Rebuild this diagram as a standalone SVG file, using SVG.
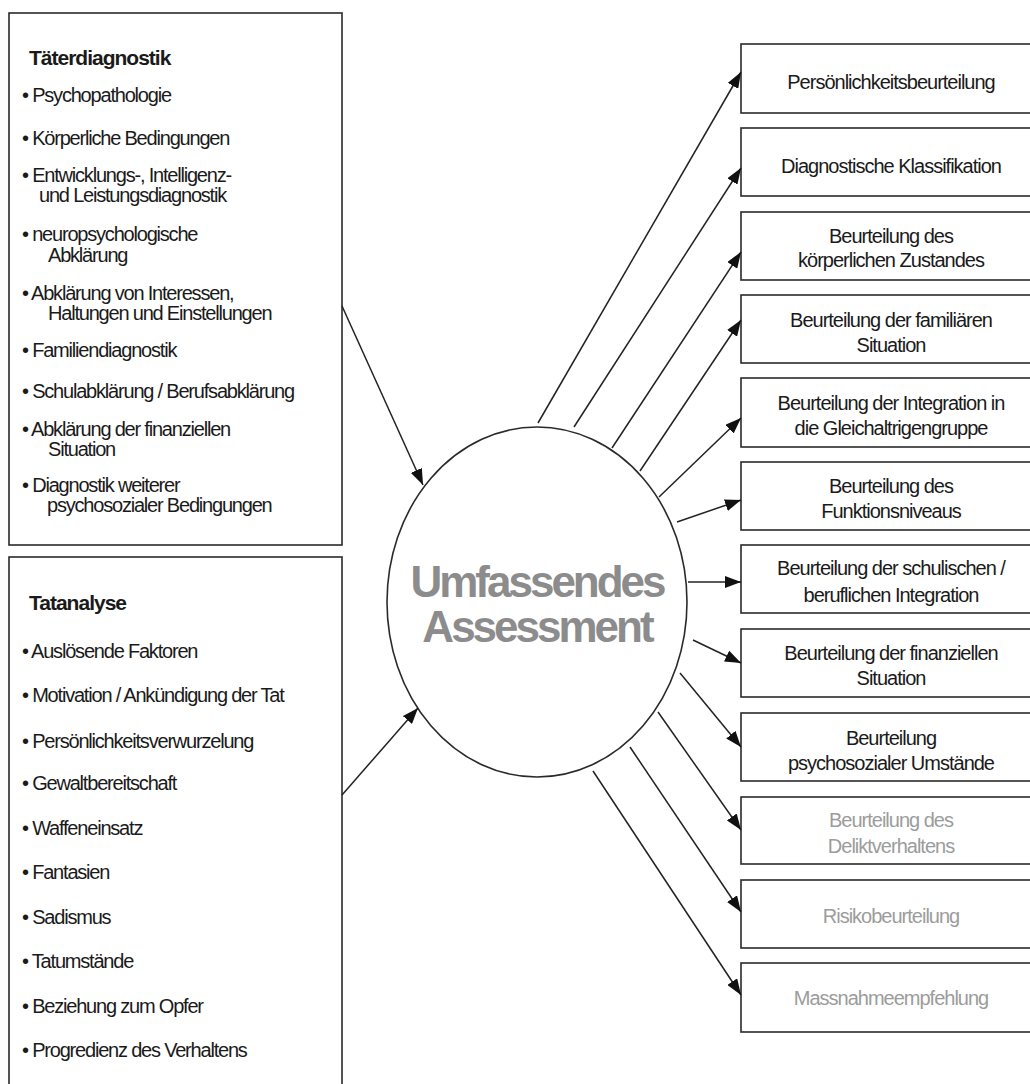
<svg xmlns="http://www.w3.org/2000/svg" width="1030" height="1084" viewBox="0 0 1030 1084">
<style>
.box{fill:#fff;stroke:#2a2a2a;stroke-width:1.6}
.t{font-family:"Liberation Sans",Arial,sans-serif;font-size:20px;fill:#1a1a1a;letter-spacing:-1.2px}
.h{font-weight:bold;font-size:21px;letter-spacing:-1px}
.r{font-family:"Liberation Sans",Arial,sans-serif;font-size:20px;fill:#1a1a1a;letter-spacing:-1px;text-anchor:middle}
.g{fill:#9c9c9c}
.big{font-family:"Liberation Sans",Arial,sans-serif;font-size:44px;font-weight:bold;fill:#8c8c8c;letter-spacing:-3px;text-anchor:middle}
.c{stroke:#222;stroke-width:1.5;fill:none;marker-end:url(#ah)}
</style>
<defs>
<marker id="ah" markerUnits="userSpaceOnUse" markerWidth="16" markerHeight="12" refX="16" refY="6" orient="auto" viewBox="0 0 16 12">
<path d="M0,0 L16,6 L0,12 z" fill="#111"/>
</marker>
</defs>
<rect width="1030" height="1084" fill="#fff"/>

<g id="taeterdiagnostik">
<rect class="box" x="9" y="13" width="333" height="532"/>
<text class="t h" x="29" y="65">Täterdiagnostik</text>
<text class="t" x="22" y="102">• Psychopathologie</text>
<text class="t" x="22" y="145">• Körperliche Bedingungen</text>
<text class="t" x="22" y="182">• Entwicklungs-, Intelligenz-</text>
<text class="t" x="39" y="202">und Leistungsdiagnostik</text>
<text class="t" x="22" y="241">• neuropsychologische</text>
<text class="t" x="48" y="262">Abklärung</text>
<text class="t" x="22" y="300">• Abklärung von Interessen,</text>
<text class="t" x="48" y="320">Haltungen und Einstellungen</text>
<text class="t" x="22" y="357">• Familiendiagnostik</text>
<text class="t" x="22" y="398">• Schulabklärung / Berufsabklärung</text>
<text class="t" x="22" y="436">• Abklärung der finanziellen</text>
<text class="t" x="48" y="456">Situation</text>
<text class="t" x="22" y="492">• Diagnostik weiterer</text>
<text class="t" x="47" y="512">psychosozialer Bedingungen</text>
</g>

<g id="tatanalyse">
<rect class="box" x="9" y="557" width="333" height="540"/>
<text class="t h" x="29" y="610">Tatanalyse</text>
<text class="t" x="22" y="658">• Auslösende Faktoren</text>
<text class="t" x="22" y="702">• Motivation / Ankündigung der Tat</text>
<text class="t" x="22" y="748">• Persönlichkeitsverwurzelung</text>
<text class="t" x="22" y="790">• Gewaltbereitschaft</text>
<text class="t" x="22" y="835">• Waffeneinsatz</text>
<text class="t" x="22" y="879">• Fantasien</text>
<text class="t" x="22" y="924">• Sadismus</text>
<text class="t" x="22" y="968">• Tatumstände</text>
<text class="t" x="22" y="1013">• Beziehung zum Opfer</text>
<text class="t" x="22" y="1057">• Progredienz des Verhaltens</text>
</g>

<g id="assessment">
<ellipse cx="537" cy="602" rx="150" ry="175" fill="#fff" stroke="#2a2a2a" stroke-width="1.6"/>
<text class="big" x="537" y="597">Umfassendes</text>
<text class="big" x="537" y="642">Assessment</text>
</g>

<g id="out1"><rect class="box" x="741" y="44" width="310" height="69"/><text class="r" x="891" y="89">Persönlichkeitsbeurteilung</text></g>
<g id="out2"><rect class="box" x="741" y="128" width="310" height="68"/><text class="r" x="891" y="173">Diagnostische Klassifikation</text></g>
<g id="out3"><rect class="box" x="741" y="212" width="310" height="68"/><text class="r" x="891" y="243">Beurteilung des</text><text class="r" x="891" y="267">körperlichen Zustandes</text></g>
<g id="out4"><rect class="box" x="741" y="295" width="310" height="68"/><text class="r" x="891" y="327">Beurteilung der familiären</text><text class="r" x="891" y="352">Situation</text></g>
<g id="out5"><rect class="box" x="741" y="378" width="310" height="69"/><text class="r" x="891" y="410">Beurteilung der Integration in</text><text class="r" x="891" y="435">die Gleichaltrigengruppe</text></g>
<g id="out6"><rect class="box" x="741" y="462" width="310" height="68"/><text class="r" x="891" y="493">Beurteilung des</text><text class="r" x="891" y="518">Funktionsniveaus</text></g>
<g id="out7"><rect class="box" x="741" y="545" width="310" height="68"/><text class="r" x="891" y="575">Beurteilung der schulischen /</text><text class="r" x="891" y="602">beruflichen Integration</text></g>
<g id="out8"><rect class="box" x="741" y="629" width="310" height="68"/><text class="r" x="891" y="660">Beurteilung der finanziellen</text><text class="r" x="891" y="685">Situation</text></g>
<g id="out9"><rect class="box" x="741" y="713" width="310" height="68"/><text class="r" x="891" y="745">Beurteilung</text><text class="r" x="891" y="770">psychosozialer Umstände</text></g>
<g id="out10"><rect class="box" x="741" y="797" width="310" height="67"/><text class="r g" x="891" y="827">Beurteilung des</text><text class="r g" x="891" y="853">Deliktverhaltens</text></g>
<g id="out11"><rect class="box" x="741" y="880" width="310" height="68"/><text class="r g" x="891" y="923">Risikobeurteilung</text></g>
<g id="out12"><rect class="box" x="741" y="963" width="310" height="69"/><text class="r g" x="891" y="1005">Massnahmeempfehlung</text></g>

<g id="connectors">
<line class="c" x1="342" y1="306" x2="423" y2="485"/>
<line class="c" x1="342" y1="795" x2="418" y2="708"/>
<line class="c" x1="538" y1="423" x2="741" y2="72"/>
<line class="c" x1="574" y1="427" x2="741" y2="168"/>
<line class="c" x1="612" y1="448" x2="741" y2="252"/>
<line class="c" x1="640" y1="471" x2="741" y2="320"/>
<line class="c" x1="659" y1="497" x2="741" y2="418"/>
<line class="c" x1="677" y1="522" x2="741" y2="500"/>
<line class="c" x1="688" y1="582" x2="741" y2="582"/>
<line class="c" x1="693" y1="640" x2="741" y2="663"/>
<line class="c" x1="680" y1="673" x2="741" y2="747"/>
<line class="c" x1="658" y1="712" x2="741" y2="830"/>
<line class="c" x1="630" y1="747" x2="741" y2="912"/>
<line class="c" x1="593" y1="771" x2="741" y2="995"/>
</g>
</svg>
